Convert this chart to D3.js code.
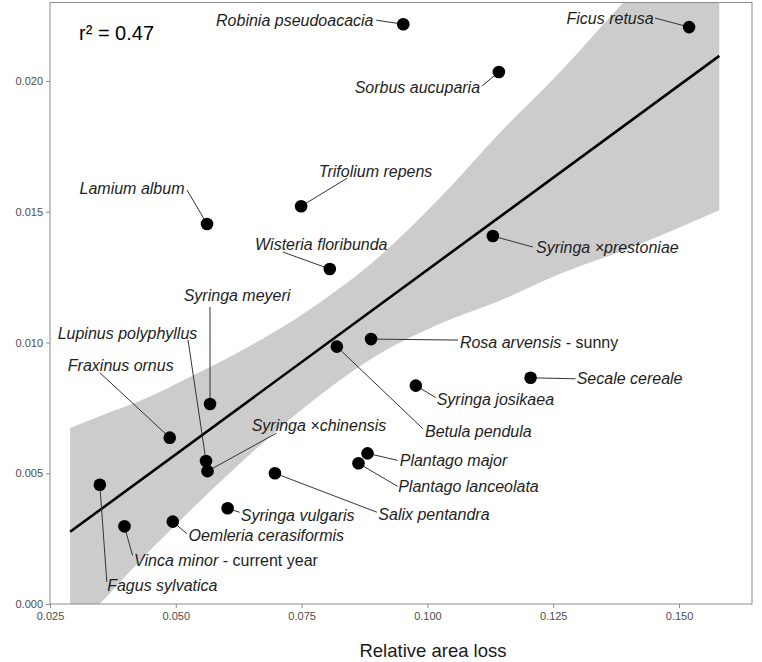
<!DOCTYPE html>
<html>
<head>
<meta charset="utf-8">
<script src="https://cdn.jsdelivr.net/npm/d3@7"></script>
<style>
  body { margin: 0; background: #fff; }
  text { font-family: "Liberation Sans", Arial, sans-serif; }
</style>
</head>
<body>
<div id="chart"></div>
<script>
// species and their values
const species = [
  "Robinia pseudoacacia", "Ficus retusa", "Sorbus aucuparia", "Trifolium repens",
  "Lamium album", "Wisteria floribunda", "Syringa ×prestoniae", "Syringa meyeri",
  "Lupinus polyphyllus", "Fraxinus ornus", "Syringa ×chinensis", "Rosa arvensis",
  "Secale cereale", "Syringa josikaea", "Betula pendula", "Plantago major",
  "Plantago lanceolata", "Salix pentandra", "Syringa vulgaris", "Oemleria cerasiformis",
  "Vinca minor", "Fagus sylvatica"
];
const suffix = { "Rosa arvensis": " - sunny", "Vinca minor": " - current year" };
const areaLoss = [0.0952, 0.1520, 0.1142, 0.0749, 0.0562, 0.0806, 0.1130, 0.0568,
  0.0560, 0.0488, 0.0563, 0.0888, 0.1205, 0.0977, 0.0820, 0.0881,
  0.0863, 0.0697, 0.0603, 0.0494, 0.0398, 0.0349];
const response = [0.02217, 0.02206, 0.02034, 0.01521, 0.01453, 0.01281, 0.01407, 0.00765,
  0.00547, 0.00636, 0.00508, 0.01013, 0.00865, 0.00835, 0.00984, 0.00576,
  0.00538, 0.00500, 0.00366, 0.00315, 0.00297, 0.00456];

// fitted line and its confidence band
const fitX = [0.029, 0.158];
const fitY = [0.00276, 0.02096];
const bandX  = [0.029, 0.0355, 0.0435, 0.0528, 0.0628, 0.0761, 0.0826, 0.0892, 0.1025, 0.1144, 0.1264, 0.1383, 0.158];
const bandHi = [0.00673, 0.00723, 0.00782, 0.00868, 0.00966, 0.01119, 0.01208, 0.01308, 0.01553, 0.01802, 0.02035, 0.02287, 0.02676];
const bandLo = [-0.00122, 0.00012, 0.00178, 0.00356, 0.00538, 0.00760, 0.00856, 0.00942, 0.01072, 0.01160, 0.01263, 0.01347, 0.01506];

const xTicks = [0.025, 0.05, 0.075, 0.1, 0.125, 0.15];
const yTicks = [0, 0.005, 0.01, 0.015, 0.02];
const rSquared = "0.47";

// label placement: pixel offset of label centre, and of segment end, from the point
const labelOffset = [[-108.5, -4], [-79, -9], [-81.5, 15], [74.5, -35], [-75, -36], [-8.5, -25],
  [114.5, 11], [27, -109], [-78.5, -128], [-49, -72], [111.5, -46], [168, 3], [99, 1],
  [79.5, 14], [141.5, 85], [86, 7], [110, 23], [159, 41], [70, 7], [93.5, 14], [101.5, 34], [62.5, 101]];
const segEnd = [[-27, -4], [-34, -9], [-17, 14], [46, -28], [-20, -34], [-47, -17],
  [40, 11], [0, -97], [-18, -121], [-70, -65], [69, -38], [87, 1], [45, 1],
  [20, 12], [86, 82], [30, 7], [39, 23], [102, 39], [12, 4], [14, 12], [8, 29], [7, 97]];

const W = 762, H = 662;
const margin = { top: 2.5, right: 10, bottom: 58, left: 50 };

const svg = d3.select("#chart").append("svg")
  .attr("width", W).attr("height", H);

const x = d3.scaleLinear().domain([0.025, 0.1645]).range([margin.left, W - margin.right]);
const y = d3.scaleLinear().domain([0, 0.023]).range([H - margin.bottom, margin.top]);

svg.append("clipPath").attr("id", "panel")
  .append("rect")
  .attr("x", x.range()[0]).attr("y", y.range()[1])
  .attr("width", x.range()[1] - x.range()[0]).attr("height", y.range()[0] - y.range()[1]);

const band = bandX.map((d, i) => ({ x: d, lo: bandLo[i], hi: bandHi[i] }));
svg.append("path")
  .datum(band)
  .attr("clip-path", "url(#panel)")
  .attr("fill", "#cccccc")
  .attr("d", d3.area().curve(d3.curveMonotoneX)
    .x(d => x(d.x)).y0(d => y(d.lo)).y1(d => y(d.hi)));

svg.append("line")
  .attr("x1", x(fitX[0])).attr("y1", y(fitY[0]))
  .attr("x2", x(fitX[1])).attr("y2", y(fitY[1]))
  .attr("stroke", "#000").attr("stroke-width", 2.6);

// axes
const xAxis = svg.append("g")
  .attr("transform", `translate(0,${y.range()[0]})`)
  .call(d3.axisBottom(x).tickValues(xTicks).tickFormat(d3.format(".3f")).tickSize(4).tickPadding(4));
const yAxis = svg.append("g")
  .attr("transform", `translate(${x.range()[0]},0)`)
  .call(d3.axisLeft(y).tickValues(yTicks).tickFormat(d3.format(".3f")).tickSize(4).tickPadding(3));
[xAxis, yAxis].forEach(g => {
  g.select(".domain").remove();
  g.selectAll(".tick line").attr("stroke", "#8c8c8c");
  g.selectAll(".tick text").attr("fill", "#4d4d4d")
    .style("font-size", "11px").style("font-family", '"Liberation Sans", Arial, sans-serif');
});

svg.append("rect")
  .attr("x", x.range()[0]).attr("y", y.range()[1])
  .attr("width", x.range()[1] - x.range()[0]).attr("height", y.range()[0] - y.range()[1])
  .attr("fill", "none").attr("stroke", "#8c8c8c").attr("stroke-width", 1);

svg.append("text")
  .attr("x", 433).attr("y", 657)
  .attr("text-anchor", "middle")
  .style("font-size", "18.5px").attr("fill", "#1a1a1a")
  .text("Relative area loss");

svg.append("text")
  .attr("x", 79).attr("y", 40)
  .style("font-size", "20px").attr("fill", "#000")
  .text(`r² = ${rSquared}`);

// labels, segments, points
const pts = species.map((s, i) => {
  const px = x(areaLoss[i]), py = y(response[i]);
  return {
    name: s, suf: suffix[s] || "", px, py,
    lx: px + labelOffset[i][0], ly: py + labelOffset[i][1],
    sx: px + segEnd[i][0], sy: py + segEnd[i][1]
  };
});

svg.append("g").selectAll("line").data(pts).join("line")
  .attr("x1", d => d.px).attr("y1", d => d.py)
  .attr("x2", d => d.sx).attr("y2", d => d.sy)
  .attr("stroke", "#333").attr("stroke-width", 1);

svg.append("g").selectAll("circle").data(pts).join("circle")
  .attr("cx", d => d.px).attr("cy", d => d.py)
  .attr("r", 6.3).attr("fill", "#000");

const labels = svg.append("g").selectAll("text").data(pts).join("text")
  .attr("x", d => d.lx).attr("y", d => d.ly).attr("dy", "0.35em")
  .attr("text-anchor", "middle")
  .style("font-size", "16px").attr("fill", "#1e1e1e");
labels.append("tspan").style("font-style", "italic").text(d => d.name);
labels.filter(d => d.suf).append("tspan").text(d => d.suf);
</script>
</body>
</html>
